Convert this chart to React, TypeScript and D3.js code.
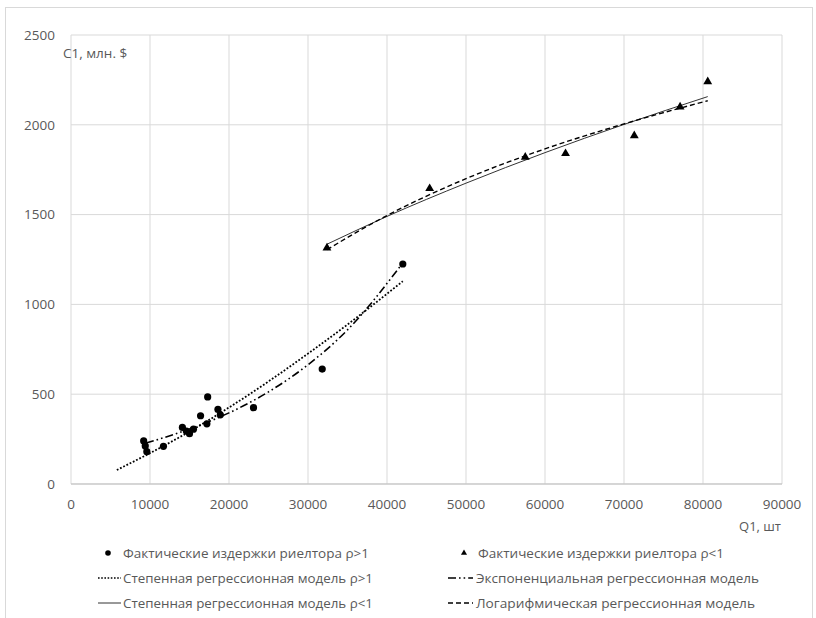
import React from "react";
import * as d3 from "d3";

// ---- data ----
const xTicks = [0, 10000, 20000, 30000, 40000, 50000, 60000, 70000, 80000, 90000];
const yTicks = [0, 500, 1000, 1500, 2000, 2500];

// Фактические издержки риелтора ρ>1 (circles)
const circleQ = [9200, 9400, 9600, 11700, 14100, 14600, 15000, 15500, 16400, 17200, 17300, 18600, 18900, 23100, 31800, 42000];
const circleC = [240, 212, 180, 210, 315, 295, 280, 305, 380, 335, 485, 415, 385, 425, 640, 1225];

// Фактические издержки риелтора ρ<1 (triangles)
const triQ = [32400, 45400, 57500, 62600, 71300, 77100, 80600];
const triC = [1315, 1645, 1820, 1840, 1940, 2100, 2240];

// Степенная регрессионная модель ρ>1 (dotted)
const powLowQ = [5800, 10000, 15000, 20000, 25000, 30000, 35000, 42000];
const powLowC = [78, 172, 292, 426, 571, 726, 888, 1129];

// Экспоненциальная регрессионная модель (dash-dot-dot)
const expQ = [9500, 15000, 20000, 25000, 30000, 35000, 42000];
const expC = [228, 306, 396, 513, 664, 858, 1231];

// Степенная регрессионная модель ρ<1 (solid)
const powHighQ = [32400, 40000, 50000, 60000, 70000, 80600];
const powHighC = [1335, 1490, 1675, 1845, 2002, 2157];

// Логарифмическая регрессионная модель (dashed)
const logQ = [32400, 40000, 50000, 60000, 70000, 80600];
const logC = [1305, 1495, 1700, 1866, 2005, 2134];

const legendLabels = [
  "Фактические издержки риелтора ρ>1",
  "Фактические издержки риелтора ρ<1",
  "Степенная регрессионная модель ρ>1",
  "Экспоненциальная регрессионная модель",
  "Степенная регрессионная модель ρ<1",
  "Логарифмическая регрессионная модель",
];

const FONT = "'Open Sans', 'Noto Sans', sans-serif";
const TXT = "#595959";

export default function App() {
  const W = 816, H = 618;
  const x = d3.scaleLinear().domain([0, 90000]).range([71, 782]);
  const y = d3.scaleLinear().domain([0, 2500]).range([484, 35]);

  const mk = (qs: number[], cs: number[]) =>
    d3.line<number>()
      .x((_, i) => x(qs[i]))
      .y((_, i) => y(cs[i]))
      .curve(d3.curveMonotoneX)(qs) || "";

  const tri = d3.symbol().type(d3.symbolTriangle).size(34)() || "";

  const lx1 = 98, lx2 = 121, ltx = 123;
  const rx1 = 448, rx2 = 473, rtx = 476;
  const rows = [553, 578, 603];

  return (
    <svg width={W} height={H} style={{ position: "absolute", left: 0, top: 0, background: "#fff" }} fontFamily={FONT}>
      <rect x={5.5} y={7.5} width={807} height={640} fill="#fff" stroke="#d9d9d9" />
      {/* gridlines */}
      {yTicks.map((t) => (
        <line key={"gy" + t} x1={x(0)} x2={x(90000)} y1={y(t)} y2={y(t)} stroke="#d9d9d9" strokeWidth={1} />
      ))}
      {xTicks.map((t) => (
        <line key={"gx" + t} x1={x(t)} x2={x(t)} y1={y(0)} y2={y(2500)} stroke="#d9d9d9" strokeWidth={1} />
      ))}
      <line x1={x(0)} x2={x(90000)} y1={y(0)} y2={y(0)} stroke="#bfbfbf" strokeWidth={1} />

      {/* tick labels */}
      {yTicks.map((t) => (
        <text key={"ty" + t} x={55} y={y(t)} dy="0.35em" textAnchor="end" fontSize={13.5} fill={TXT}>{t}</text>
      ))}
      {xTicks.map((t) => (
        <text key={"tx" + t} x={x(t)} y={509} textAnchor="middle" fontSize={13.5} fill={TXT}>{t}</text>
      ))}
      <text x={63} y={58} fontSize={13.5} fill={TXT}>C1, млн. $</text>
      <text x={781} y={531} textAnchor="end" fontSize={13} fill={TXT}>Q1, шт</text>

      {/* regression lines */}
      <path d={mk(powLowQ, powLowC)} fill="none" stroke="#000" strokeWidth={1.8} strokeDasharray="1.8,1.8" />
      <path d={mk(expQ, expC)} fill="none" stroke="#000" strokeWidth={1.6} strokeDasharray="8,3,1.6,3,1.6,3" />
      <path d={mk(powHighQ, powHighC)} fill="none" stroke="#333" strokeWidth={1} />
      <path d={mk(logQ, logC)} fill="none" stroke="#000" strokeWidth={1.4} strokeDasharray="5,3" />

      {/* points */}
      {circleQ.map((q, i) => (
        <circle key={"c" + i} cx={x(q)} cy={y(circleC[i])} r={3.6} fill="#000" />
      ))}
      {triQ.map((q, i) => (
        <path key={"t" + i} d={tri} transform={`translate(${x(q)},${y(triC[i])})`} fill="#000" />
      ))}

      {/* legend */}
      <g fontSize={13} fill={TXT}>
        <circle cx={108} cy={rows[0]} r={2.8} fill="#000" />
        <text x={ltx} y={rows[0]} dy="0.35em" textLength={246} lengthAdjust="spacingAndGlyphs">{legendLabels[0]}</text>
        <path d={d3.symbol().type(d3.symbolTriangle).size(16)() || ""} transform={`translate(464,${rows[0]})`} fill="#000" />
        <text x={rtx + 2} y={rows[0]} dy="0.35em" textLength={246} lengthAdjust="spacingAndGlyphs">{legendLabels[1]}</text>

        <line x1={lx1} x2={lx2} y1={rows[1]} y2={rows[1]} stroke="#000" strokeWidth={1.6} strokeDasharray="1.6,1.6" />
        <text x={ltx} y={rows[1]} dy="0.35em" textLength={250} lengthAdjust="spacingAndGlyphs">{legendLabels[2]}</text>
        <line x1={rx1} x2={rx2} y1={rows[1]} y2={rows[1]} stroke="#000" strokeWidth={1.6} strokeDasharray="8,3,1.6,3,1.6,3" />
        <text x={rtx} y={rows[1]} dy="0.35em" textLength={283} lengthAdjust="spacingAndGlyphs">{legendLabels[3]}</text>

        <line x1={lx1} x2={lx2} y1={rows[2]} y2={rows[2]} stroke="#333" strokeWidth={1} />
        <text x={ltx} y={rows[2]} dy="0.35em" textLength={250} lengthAdjust="spacingAndGlyphs">{legendLabels[4]}</text>
        <line x1={rx1} x2={rx2} y1={rows[2]} y2={rows[2]} stroke="#000" strokeWidth={1.4} strokeDasharray="5,3" />
        <text x={rtx} y={rows[2]} dy="0.35em" textLength={279} lengthAdjust="spacingAndGlyphs">{legendLabels[5]}</text>
      </g>
    </svg>
  );
}
